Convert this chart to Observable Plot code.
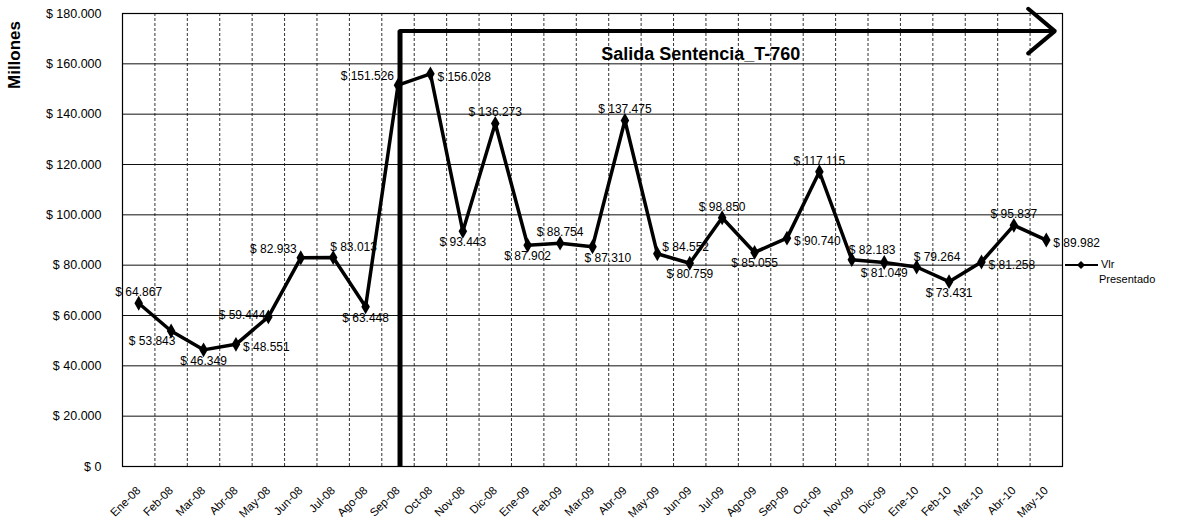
<!DOCTYPE html>
<html><head><meta charset="utf-8">
<script src="https://cdn.jsdelivr.net/npm/d3@7"></script>
<script src="https://cdn.jsdelivr.net/npm/@observablehq/plot@0.6"></script>
<style>
body{margin:0;background:#fff;font-family:"Liberation Sans",Arial,sans-serif;}
#wrap{position:relative;width:1181px;height:526px;}
.lg{position:absolute;font-size:11px;color:#000;white-space:nowrap;line-height:1;}
#ylab{position:absolute;left:15px;top:55px;transform:translate(-50%,-50%) rotate(-90deg);font-size:17px;font-weight:bold;white-space:nowrap;}
</style></head><body>
<div id="wrap"><div id="chart"></div>
<span id="ylab"></span>
<svg id="lgsym" style="position:absolute;left:1064px;top:260px" width="36" height="10"><line x1="1" y1="5" x2="34" y2="5" stroke="#000" stroke-width="2"/><path d="M17 1 L21 5 L17 9 L13 5 Z" fill="#000"/></svg>
<span class="lg" id="lg1" style="left:1101px;top:259px"></span>
<span class="lg" id="lg2" style="left:1099px;top:274px"></span>
</div>
<script>
const months = ["Ene-08","Feb-08","Mar-08","Abr-08","May-08","Jun-08","Jul-08","Ago-08","Sep-08","Oct-08","Nov-08","Dic-08",
  "Ene-09","Feb-09","Mar-09","Abr-09","May-09","Jun-09","Jul-09","Ago-09","Sep-09","Oct-09","Nov-09","Dic-09",
  "Ene-10","Feb-10","Mar-10","Abr-10","May-10"];
const values = [64867,53843,46349,48551,59444,82933,83013,63448,151526,156028,93443,136273,
  87902,88754,87310,137475,84552,80759,98850,85055,90740,117115,82183,81049,
  79264,73431,81258,95837,89982];
const yTicks = [0,20000,40000,60000,80000,100000,120000,140000,160000,180000];
const legendLines = ["Vlr","Presentado"];
const yLabel = "Millones";
const sentenciaMonth = "Sep-08";
const sentenciaLevel = 173000;
const sentenciaLabel = "Salida Sentencia_T-760";
const sentenciaLabelMonth = "Jun-09";
const sentenciaLabelLevel = 164000;

const fmt = v => "$ " + d3.format(",")(v).replace(/,/g, ".");
const data = months.map((m, i) => ({i, m, v: values[i]}));

// label placement per month (style only)
const placement = {
  "Ene-08":"above","Feb-08":"downLeft","Mar-08":"below","Abr-08":"right","May-08":"left","Jun-08":"upLeft",
  "Jul-08":"upRight","Ago-08":"below","Sep-08":"upLeft","Oct-08":"right","Nov-08":"below","Dic-08":"above",
  "Ene-09":"below","Feb-09":"above","Mar-09":"downRight","Abr-09":"above","May-09":"rightUp","Jun-09":"below",
  "Jul-09":"above","Ago-09":"below","Sep-09":"right","Oct-09":"above","Nov-09":"upRight","Dic-09":"below",
  "Ene-10":"upRight","Feb-10":"below","Mar-10":"right","Abr-10":"above","May-10":"right"
};
const styles = {
  above:{textAnchor:"middle",dx:0,dy:-11},
  below:{textAnchor:"middle",dx:0,dy:11},
  left:{textAnchor:"end",dx:-3,dy:-2},
  right:{textAnchor:"start",dx:7,dy:3},
  rightUp:{textAnchor:"start",dx:5,dy:-7},
  upLeft:{textAnchor:"end",dx:-4,dy:-9},
  upRight:{textAnchor:"start",dx:-3,dy:-10},
  downLeft:{textAnchor:"middle",dx:-19,dy:10},
  downRight:{textAnchor:"start",dx:-8,dy:11}
};
const labelMarks = Object.entries(styles).map(([k, s]) =>
  Plot.text(data.filter(d => placement[d.m] === k), {x:"i", y:"v", text: d => fmt(d.v), ...s,
    fontSize: 12, fill:"#000"}));

const si = months.indexOf(sentenciaMonth);
const last = months.length - 1;

const chart = Plot.plot({
  width: 1181, height: 526,
  marginLeft: 122, marginRight: 119, marginTop: 13, marginBottom: 60,
  style: {fontFamily: '"Liberation Sans", Arial, sans-serif', background: "#fff", color: "#000"},
  x: {type: "linear", domain: [-0.5, months.length - 0.5], axis: null},
  y: {domain: [0, 180000], axis: null},
  marks: [
    Plot.ruleX(d3.range(1, months.length).map(i => i - 0.5), {stroke:"#333", strokeDasharray:"3,2", strokeWidth:1}),
    Plot.ruleY(yTicks, {stroke:"#111", strokeWidth:1}),
    Plot.frame({stroke:"#000", strokeWidth:1.2}),
    Plot.axisY(yTicks, {tickFormat: fmt, tickSize: 0, tickPadding: 21, fontSize: 12.5, label: null, fill:"#000"}),
    Plot.axisX(d3.range(months.length), {tickFormat: i => months[i], tickRotate: -45, tickSize: 0, tickPadding: 22, fontSize: 11.5, label: null, fill:"#000"}),
    Plot.ruleX([si], {y1: 0, y2: sentenciaLevel, stroke:"#000", strokeWidth:5, dx:2}),
    Plot.arrow([0], {x1: () => si, y1: () => sentenciaLevel, x2: () => last + 0.2, y2: () => sentenciaLevel,
      stroke:"#000", strokeWidth:4, headLength:13, headAngle:80, dx:2}),
    Plot.text([sentenciaLabel], {x: () => months.indexOf(sentenciaLabelMonth), y: () => sentenciaLabelLevel,
      dx: 11, fontSize: 18, fontWeight: "bold"}),
    Plot.line(data, {x:"i", y:"v", stroke:"#000", strokeWidth:3.5}),
    Plot.dot(data, {x:"i", y:"v", symbol:"diamond", r:4.5, fill:"#000"}),
    ...labelMarks
  ]
});
document.getElementById("chart").appendChild(chart);
document.getElementById("ylab").textContent = yLabel;
document.getElementById("lg1").textContent = legendLines[0];
document.getElementById("lg2").textContent = legendLines[1];
</script>
</body></html>
